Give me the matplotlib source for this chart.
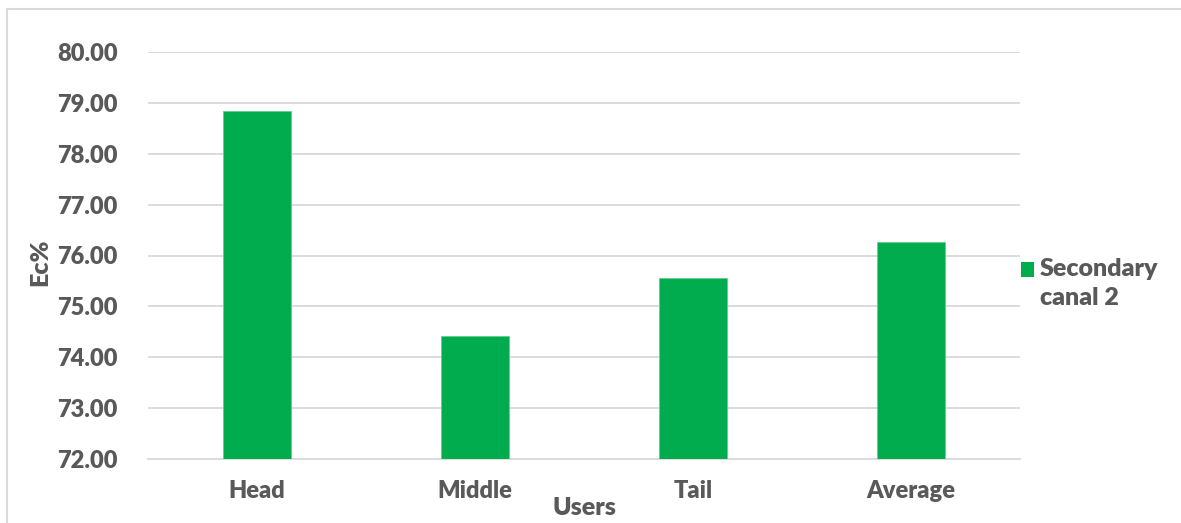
import matplotlib
matplotlib.use("Agg")
import matplotlib.pyplot as plt
from matplotlib.patches import Rectangle

categories = ["Head", "Middle", "Tail", "Average"]
values = [78.84, 74.42, 75.56, 76.27]
series_name = "Secondary\ncanal 2"
yticks = [72, 73, 74, 75, 76, 77, 78, 79, 80]

plt.rcParams['font.family'] = ['Lato', 'DejaVu Sans']
txt = "#595959"
green = "#00AC4E"
W_ = "heavy"

fig = plt.figure(figsize=(11.81, 5.23), dpi=100)
W, H = 1181, 523
ax = fig.add_axes([148 / W, 1 - 459 / H, (1020 - 148) / W, (459 - 52) / H])

x = range(len(categories))
ax.bar(x, values, width=0.31, color=green, edgecolor="#5fd08f", linewidth=0.6, zorder=3,
       label=series_name)
ax.set_ylim(72, 80)
ax.set_xlim(-0.5, len(categories) - 0.5)
ax.set_yticks(yticks)
ax.set_yticklabels([f"{v:.2f}" for v in yticks])
ax.set_xticks(list(x))
ax.set_xticklabels(categories)
ax.grid(axis="y", color="#d9d9d9", linewidth=1.3, zorder=0)
for s in ["top", "right", "left"]:
    ax.spines[s].set_visible(False)
ax.spines["bottom"].set_color("#d9d9d9")
ax.spines["bottom"].set_linewidth(1.3)
ax.tick_params(axis="both", length=0, colors=txt, labelsize=17)
ax.tick_params(axis="y", pad=22)
ax.tick_params(axis="x", pad=15)
for lbl in ax.get_xticklabels() + ax.get_yticklabels():
    lbl.set_fontweight(W_)

fig.text(40 / W, 1 - 262 / H, "Ec%", rotation=90, ha="center", va="center",
         fontsize=18, fontweight=W_, color=txt)
fig.text(584 / W, 1 - 508 / H, "Users", ha="center", va="center",
         fontsize=18, fontweight=W_, color=txt)

# legend (custom placement: marker aligned with first text line)
fig.patches.append(Rectangle((1021 / W, 1 - 277 / H), 13 / W, 15 / H,
                             transform=fig.transFigure, facecolor=green, edgecolor="none"))
fig.text(1040 / W, 1 - 258 / H, series_name, ha="left", va="top", fontsize=18,
         fontweight=W_, color=txt, linespacing=1.4)

fig.patches.append(Rectangle((7 / W, -0.05), 1.2, 1 - 9 / H + 0.05, transform=fig.transFigure,
                             fill=False, edgecolor="#d9d9d9", linewidth=1.5))

fig.savefig("out.png", dpi=100)
